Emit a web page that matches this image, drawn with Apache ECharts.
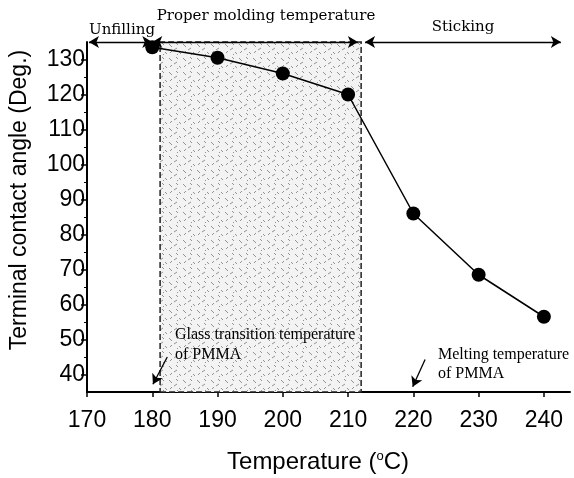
<!DOCTYPE html>
<html>
<head>
<meta charset="utf-8">
<script src="https://cdn.jsdelivr.net/npm/echarts@6/dist/echarts.min.js"></script>
<style>
html,body{margin:0;padding:0;background:#fff;}
#chart{width:574px;height:478px;}
</style>
</head>
<body>
<div id="chart"></div>
<script>
var temps = [180, 190, 200, 210, 220, 230, 240];
var angles = [133.5, 130.5, 126, 120, 86, 68.5, 56.5];
var yTicks = [40, 50, 60, 70, 80, 90, 100, 110, 120, 130];
var yMinor = [45, 55, 65, 75, 85, 95, 105, 115, 125];
var xTicks = [170, 180, 190, 200, 210, 220, 230, 240];
var properRange = [181.2, 212];
var topArrows = [[170.3, 180], [180, 211.5], [212.6, 242.6]];

function makePattern(){
	var c = document.createElement("canvas");
	c.width = 14; c.height = 14;
	var g = c.getContext("2d");
	g.fillStyle = "#f3f3f3";
	g.fillRect(0, 0, 14, 14);
	g.strokeStyle = "#939393";
	g.lineWidth = 1;
	var segs = [[1,2,4,5],[8,1,10,3],[6,8,9,6],[11,10,13,12],[2,11,4,9],[9,12,10,13]];
	for(var i=0;i<segs.length;i++){
		g.beginPath();
		g.moveTo(segs[i][0], segs[i][1]);
		g.lineTo(segs[i][2], segs[i][3]);
		g.stroke();
	}
	return c;
}

var myChart = echarts.init(document.getElementById("chart"));

var arrowLines = [];
for(let i=0;i<topArrows.length;i++){
	arrowLines.push([{coord:[topArrows[i][0],135]},{coord:[topArrows[i][1],135]}]);
}

var option = {
	animation:false,
	backgroundColor:"#fff",
	grid:{left:87, right:4, top:42, bottom:86},
	xAxis:{
		type:"value",
		min:170, max:244,
		axisLine:{lineStyle:{color:"#000", width:2}},
		axisTick:{customValues:xTicks, length:5, lineStyle:{color:"#000", width:1.5}},
		axisLabel:{customValues:xTicks, color:"#000", fontSize:23, fontFamily:"Liberation Sans", margin:17},
		splitLine:{show:false}
	},
	yAxis:[{
		type:"value",
		min:35, max:135,
		axisLine:{show:true, lineStyle:{color:"#000", width:2}},
		axisTick:{show:true, customValues:yTicks, length:6, lineStyle:{color:"#000", width:1.5}},
		axisLabel:{customValues:yTicks, color:"#000", fontSize:23, fontFamily:"Liberation Sans", margin:2},
		splitLine:{show:false}
	},{
		type:"value",
		min:35, max:135,
		position:"left",
		axisLine:{show:false},
		axisTick:{show:true, customValues:yMinor, length:3, lineStyle:{color:"#000", width:1}},
		axisLabel:{show:false},
		splitLine:{show:false}
	}],
	series:[{
		type:"line",
		data:[],
		z:1,
		silent:true,
		markArea:{
			silent:true,
			itemStyle:{
				color:{image:makePattern(), repeat:"repeat"},
				borderType:"dashed", borderColor:"#222", borderWidth:1.5
			},
			data:[[{xAxis:properRange[0]},{xAxis:properRange[1]}]]
		}
	},{
		type:"line",
		data:temps.map(function(t,i){return [t, angles[i]];}),
		z:5,
		symbol:"circle",
		symbolSize:14,
		itemStyle:{color:"#000"},
		lineStyle:{color:"#000", width:1.5},
		markLine:{
			silent:true,
			symbol:["arrow","arrow"],
			symbolSize:[9,10],
			label:{show:false},
			lineStyle:{color:"#000", width:1.3, type:"solid"},
			data:arrowLines.concat([
				[{coord:[182.3,45], symbol:"none"},{coord:[180.1,37.2], symbol:"arrow"}],
				[{coord:[221.8,44.3], symbol:"none"},{coord:[219.9,36.5], symbol:"arrow"}]
			])
		}
	}],
	graphic:[
		{type:"text", x:122, y:30, style:{text:"Unfilling", font:"15px 'DejaVu Serif'", fill:"#000", textAlign:"center", textVerticalAlign:"middle"}},
		{type:"text", x:266, y:16, style:{text:"Proper molding temperature", font:"15px 'DejaVu Serif'", fill:"#000", textAlign:"center", textVerticalAlign:"middle"}},
		{type:"text", x:463, y:27, style:{text:"Sticking", font:"15px 'DejaVu Serif'", fill:"#000", textAlign:"center", textVerticalAlign:"middle"}},
		{type:"text", x:175, y:335, z:10, style:{text:"Glass transition temperature", font:"16px 'Liberation Serif'", fill:"#000", textAlign:"left", textVerticalAlign:"middle"}},
		{type:"text", x:175, y:355, z:10, style:{text:"of PMMA", font:"16px 'Liberation Serif'", fill:"#000", textAlign:"left", textVerticalAlign:"middle"}},
		{type:"text", x:438, y:355, style:{text:"Melting temperature", font:"16px 'Liberation Serif'", fill:"#000", textAlign:"left", textVerticalAlign:"middle"}},
		{type:"text", x:438, y:374, style:{text:"of PMMA", font:"16px 'Liberation Serif'", fill:"#000", textAlign:"left", textVerticalAlign:"middle"}},
		{type:"text", x:20, y:200, rotation:Math.PI/2, style:{text:"Terminal contact angle (Deg.)", font:"23px 'Liberation Sans'", fill:"#000", textAlign:"center", textVerticalAlign:"middle"}},
		{type:"text", x:318, y:462, style:{
			text:"Temperature ({s|o}C)",
			font:"24px 'Liberation Sans'", fill:"#000", textAlign:"center", textVerticalAlign:"middle",
			rich:{s:{fontSize:13, fontFamily:"Liberation Sans", verticalAlign:"top", padding:[0,0,12,0]}}
		}}
	]
};

myChart.setOption(option);
</script>
</body>
</html>
